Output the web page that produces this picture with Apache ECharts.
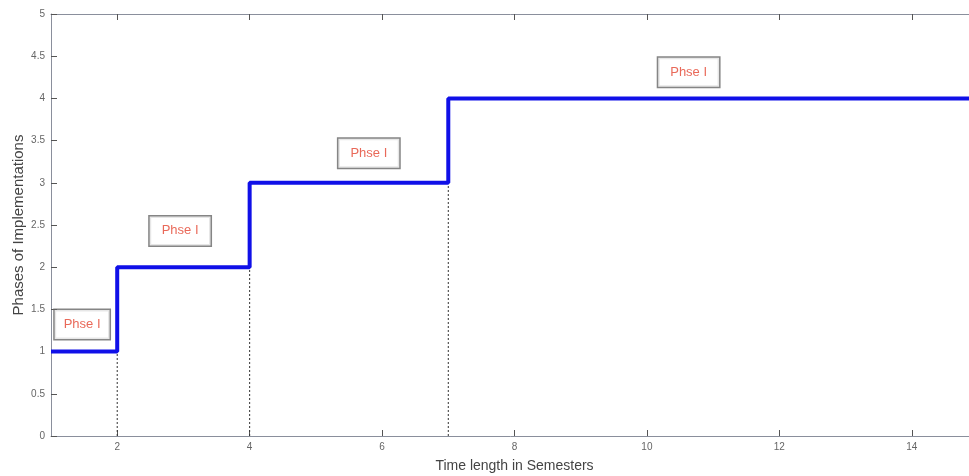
<!DOCTYPE html>
<html>
<head>
<meta charset="utf-8">
<script src="https://cdn.jsdelivr.net/npm/echarts@6/dist/echarts.min.js"></script>
<style>
  html, body { margin: 0; padding: 0; background: #fff; }
  #chart { width: 969px; height: 476px; }
</style>
</head>
<body>
<div id="chart"></div>
<script>
// Staircase of implementation phases over semesters
const stepX = [1, 2, 4, 7, 15];
const stepY = [1, 2, 3, 4, 4];

// Dotted drop lines from each step corner down to the axis
const dropX = [2, 4, 7];
const dropY = [1, 2, 3];

// Phase annotation boxes
const labelX = [1.47, 2.95, 5.8, 10.63];
const labelY = [1.32, 2.43, 3.35, 4.31];
const labelText = ['Phse I', 'Phse I', 'Phse I', 'Phse I'];

// Tick labels
const xTicks = [2, 4, 6, 8, 10, 12, 14];
const yTicks = [0, 0.5, 1, 1.5, 2, 2.5, 3, 3.5, 4, 4.5, 5];

const axisColor = '#8a8f9c';
const textColor = '#666';
const font = 'Liberation Sans, Arial, sans-serif';

const chart = echarts.init(document.getElementById('chart'));

const series = [];
series.push({
  type: 'line',
  step: 'end',
  data: stepX.map((x, i) => [x, stepY[i]]),
  symbol: 'none',
  lineStyle: { color: '#1010e8', width: 4 },
  z: 5
});
dropX.forEach((x, i) => {
  series.push({
    type: 'line',
    data: [[x, 0], [x, dropY[i]]],
    symbol: 'none',
    lineStyle: { color: '#333', width: 1, type: [2, 2] },
    z: 3
  });
});
series.push({
  type: 'scatter',
  data: labelX.map((x, i) => {
    const item = { value: [x, labelY[i]], name: labelText[i] };
    // the first box sits in the narrow first step, so it is kept tighter
    if (i === 0) item.label = { padding: [8, 9, 8, 9] };
    return item;
  }),
  symbolSize: 0,
  label: {
    show: true,
    position: 'inside',
    formatter: p => p.name,
    color: '#e4432f',
    fontFamily: font,
    fontSize: 13,
    backgroundColor: '#fff',
    borderColor: '#666',
    borderWidth: 1.5,
    padding: [8, 12, 8, 12]
  },
  z: 6
});

chart.setOption({
  animation: false,
  backgroundColor: '#fff',
  grid: { left: 51, right: -9, top: 14, bottom: 40, containLabel: false, outerBoundsMode: 'none' },
  xAxis: [
    {
      type: 'value',
      min: 1,
      max: 15,
      name: 'Time length in Semesters',
      nameLocation: 'middle',
      nameGap: 23,
      nameTextStyle: { color: '#444', fontFamily: font, fontSize: 14 },
      axisLine: { show: true, lineStyle: { color: axisColor, width: 1 } },
      axisTick: { show: true, inside: true, length: 6, customValues: xTicks, lineStyle: { color: '#555' } },
      axisLabel: { customValues: xTicks, color: textColor, fontFamily: font, fontSize: 10, margin: 6 },
      splitLine: { show: false }
    },
    {
      type: 'value',
      position: 'top',
      min: 1,
      max: 15,
      axisLine: { show: true, lineStyle: { color: axisColor, width: 1 } },
      axisTick: { show: true, inside: true, length: 6, customValues: xTicks, lineStyle: { color: '#555' } },
      axisLabel: { show: false },
      splitLine: { show: false }
    }
  ],
  yAxis: {
    type: 'value',
    min: 0,
    max: 5,
    interval: 0.5,
    name: 'Phases of Implementations',
    nameLocation: 'middle',
    nameGap: 25,
    nameMoveOverlap: false,
    nameTextStyle: { color: '#444', fontFamily: font, fontSize: 15 },
    axisLine: { show: true, lineStyle: { color: axisColor, width: 1 } },
    axisTick: { show: true, inside: true, length: 6, lineStyle: { color: '#555' } },
    axisLabel: {
      color: textColor, fontFamily: font, fontSize: 10, margin: 6,
      formatter: v => (yTicks.indexOf(v) >= 0 ? String(v) : '')
    },
    splitLine: { show: false }
  },
  series: series
});
</script>
</body>
</html>
